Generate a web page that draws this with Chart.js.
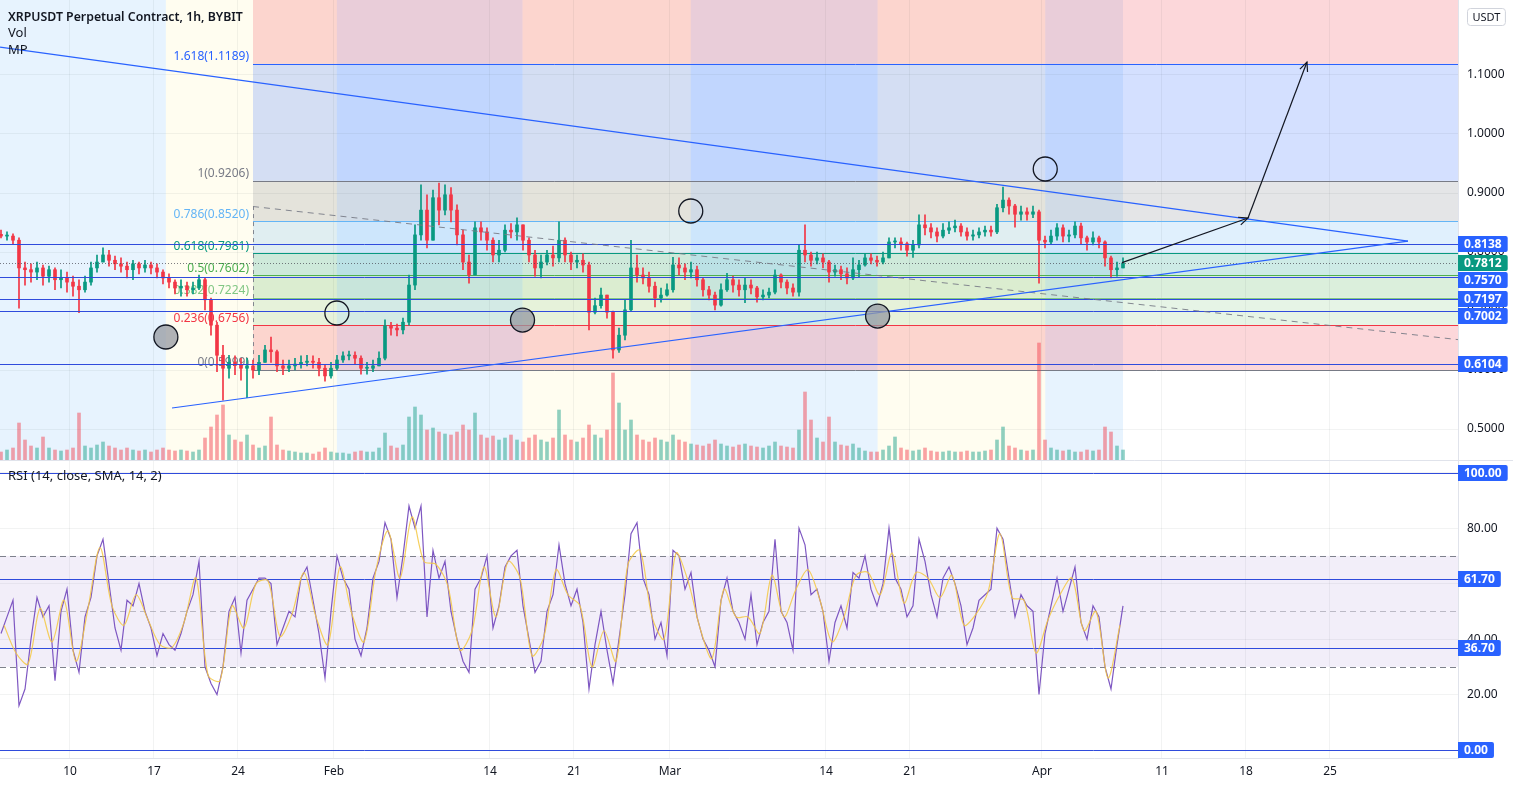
<!DOCTYPE html>
<html><head><meta charset="utf-8">
<script src="https://cdn.jsdelivr.net/npm/chart.js@4.4.1/dist/chart.umd.min.js"></script>
<style>
html,body{margin:0;padding:0;background:#fff;overflow:hidden}
#wrap{position:relative;width:1513px;height:786px;background:#fff}
canvas{position:absolute;left:0}
#c1{top:0}
#c2{top:460px}
</style></head><body>
<div id="wrap"><canvas id="c1" width="1513" height="460"></canvas><canvas id="c2" width="1513" height="326"></canvas></div>
<script>
// ---------------- DATA ----------------
// time axis: days since 2022-01-01 00:00; 12h candles
const firstCandleDay = 3;      // Jan 4 00:00
const candleStepDays = 0.5;
const firstOpen = 0.830;
const closes = [
0.827,0.827,0.820,0.773,0.770,0.766,0.773,0.759,0.770,0.753,
0.756,0.749,0.742,0.736,0.749,0.773,0.783,0.795,0.786,0.780,
0.776,0.770,0.780,0.773,0.778,0.773,0.766,0.756,0.749,0.739,
0.742,0.736,0.739,0.753,0.719,0.676,0.625,0.603,0.613,0.608,
0.603,0.607,0.600,0.613,0.634,0.631,0.607,0.603,0.607,0.610,
0.613,0.615,0.613,0.603,0.590,0.603,0.617,0.624,0.625,0.620,
0.603,0.603,0.607,0.620,0.675,0.671,0.668,0.681,0.744,0.829,
0.871,0.820,0.892,0.871,0.897,0.871,0.829,0.783,0.761,0.841,
0.834,0.820,0.795,0.803,0.837,0.834,0.846,0.820,0.795,0.773,
0.783,0.795,0.790,0.820,0.795,0.783,0.786,0.778,0.698,0.709,
0.727,0.698,0.634,0.659,0.702,0.773,0.761,0.756,0.742,0.722,
0.727,0.736,0.778,0.773,0.766,0.770,0.753,0.736,0.727,0.710,
0.736,0.753,0.744,0.736,0.744,0.739,0.724,0.727,0.732,0.761,
0.749,0.739,0.732,0.803,0.795,0.786,0.790,0.783,0.766,0.770,
0.763,0.756,0.770,0.778,0.790,0.786,0.783,0.790,0.817,0.817,
0.814,0.803,0.812,0.846,0.841,0.834,0.827,0.837,0.841,0.844,
0.834,0.827,0.829,0.834,0.837,0.834,0.875,0.888,0.878,0.864,
0.868,0.864,0.868,0.820,0.817,0.827,0.841,0.827,0.829,0.844,
0.824,0.817,0.824,0.817,0.790,0.770,0.773,0.7812];
const highs = [
0.837,0.834,0.831,0.824,0.783,0.780,0.783,0.778,0.776,0.773,
0.770,0.766,0.759,0.753,0.759,0.783,0.795,0.807,0.803,0.793,
0.790,0.783,0.786,0.783,0.786,0.783,0.780,0.770,0.763,0.753,
0.753,0.749,0.749,0.761,0.756,0.722,0.681,0.642,0.625,0.624,
0.620,0.620,0.617,0.625,0.642,0.656,0.634,0.617,0.617,0.620,
0.624,0.625,0.624,0.620,0.608,0.613,0.625,0.631,0.632,0.631,
0.624,0.613,0.617,0.631,0.685,0.681,0.678,0.688,0.761,0.846,
0.914,0.897,0.905,0.917,0.914,0.909,0.880,0.837,0.795,0.851,
0.851,0.841,0.824,0.820,0.846,0.848,0.858,0.846,0.824,0.803,
0.795,0.803,0.810,0.851,0.824,0.800,0.795,0.797,0.783,0.722,
0.739,0.727,0.700,0.671,0.719,0.820,0.795,0.773,0.766,0.749,
0.739,0.746,0.791,0.790,0.780,0.783,0.776,0.756,0.742,0.732,
0.746,0.764,0.759,0.753,0.756,0.753,0.742,0.736,0.739,0.770,
0.763,0.753,0.746,0.812,0.846,0.800,0.800,0.797,0.786,0.778,
0.776,0.773,0.790,0.786,0.797,0.797,0.793,0.800,0.824,0.824,
0.824,0.817,0.820,0.863,0.863,0.848,0.841,0.848,0.851,0.854,
0.848,0.841,0.837,0.841,0.844,0.844,0.881,0.910,0.892,0.881,
0.878,0.875,0.878,0.871,0.827,0.837,0.848,0.846,0.837,0.851,
0.849,0.827,0.834,0.827,0.819,0.793,0.783,0.790];
const lows = [
0.824,0.820,0.814,0.705,0.744,0.749,0.753,0.744,0.749,0.736,
0.739,0.732,0.725,0.697,0.732,0.744,0.766,0.783,0.776,0.770,
0.766,0.756,0.753,0.763,0.766,0.763,0.756,0.746,0.739,0.729,
0.725,0.725,0.729,0.736,0.702,0.659,0.597,0.549,0.586,0.592,
0.583,0.553,0.586,0.592,0.613,0.613,0.597,0.592,0.597,0.600,
0.603,0.607,0.603,0.590,0.581,0.586,0.600,0.613,0.617,0.610,
0.593,0.593,0.597,0.607,0.617,0.659,0.658,0.661,0.676,0.736,
0.820,0.807,0.820,0.846,0.863,0.851,0.812,0.770,0.747,0.761,
0.820,0.803,0.783,0.783,0.800,0.824,0.820,0.803,0.783,0.759,
0.756,0.778,0.776,0.783,0.783,0.770,0.773,0.766,0.668,0.695,
0.705,0.688,0.620,0.630,0.651,0.700,0.749,0.746,0.732,0.707,
0.715,0.725,0.732,0.761,0.753,0.756,0.742,0.725,0.719,0.702,
0.708,0.733,0.732,0.725,0.714,0.729,0.715,0.719,0.722,0.729,
0.739,0.729,0.725,0.725,0.783,0.776,0.780,0.773,0.749,0.759,
0.753,0.746,0.753,0.758,0.776,0.780,0.776,0.780,0.790,0.807,
0.803,0.793,0.791,0.807,0.829,0.824,0.817,0.824,0.831,0.834,
0.827,0.820,0.820,0.824,0.827,0.827,0.831,0.868,0.864,0.842,
0.854,0.854,0.858,0.747,0.807,0.814,0.820,0.817,0.817,0.824,
0.814,0.803,0.812,0.807,0.776,0.756,0.759,0.773];
const volume = [
0.8,1.0,1.2,3.7,2.0,1.4,1.2,2.3,1.2,1.0,
0.9,1.0,1.2,4.7,1.4,1.2,1.5,1.8,1.4,1.2,
1.0,1.2,1.0,0.9,1.0,0.8,1.0,1.2,1.0,0.9,
1.0,0.9,0.8,1.0,2.2,3.3,4.5,5.5,2.5,2.0,
1.8,2.5,1.5,1.2,1.4,4.3,1.5,1.0,0.9,0.8,
0.7,0.7,0.6,0.8,1.2,0.8,0.7,0.7,0.6,0.8,
0.9,0.8,0.8,1.2,2.7,1.4,1.2,1.5,4.3,5.3,
4.5,3.0,3.2,2.8,2.6,2.5,2.8,3.5,3.0,4.7,
2.5,2.2,2.4,2.0,2.2,2.5,2.0,1.8,2.2,2.5,
2.0,1.8,2.2,5.0,2.5,2.0,1.8,2.2,3.5,2.5,
2.2,3.0,8.7,5.7,3.0,4.0,2.5,2.0,1.8,2.2,
2.0,1.8,2.5,2.0,1.8,1.6,1.5,1.4,1.6,2.0,
1.6,1.4,1.3,1.5,1.6,1.4,1.3,1.2,1.4,1.8,
1.4,1.3,1.2,3.0,6.8,4.0,2.2,1.8,4.3,1.8,
1.5,1.4,1.6,1.2,0.9,0.8,0.8,1.0,1.4,2.3,
1.2,1.0,0.9,1.0,1.2,0.9,0.8,0.8,0.9,0.8,
0.8,0.9,0.8,0.8,0.9,1.0,2.0,3.3,1.4,1.2,
1.0,0.9,1.0,11.7,2.0,1.2,1.0,0.9,1.0,0.8,
0.8,1.0,0.9,1.0,3.3,2.8,1.4,1.0];
const rsi = [
42,48,54,16,22,40,55,48,52,25,
50,58,36,28,48,55,70,76,60,44,
36,54,52,60,50,44,34,42,38,36,
42,50,56,68,30,24,20,30,50,55,
35,54,58,62,62,60,38,44,50,48,
62,66,54,42,26,50,70,62,58,40,
34,44,62,68,82,76,55,70,88,80,
88,48,72,62,68,50,40,32,28,58,
62,70,44,52,66,70,72,52,40,28,
32,50,56,74,60,52,58,46,22,38,
50,36,24,40,56,78,82,62,56,40,
46,34,72,70,58,64,48,40,36,30,
54,62,50,46,40,56,38,46,50,76,
50,46,36,80,74,56,58,50,32,46,
52,44,64,62,70,58,52,60,80,62,
58,48,52,76,68,56,48,62,66,60,
52,38,44,54,56,58,80,76,62,48,
56,52,50,20,42,52,62,50,58,66,
46,40,52,48,30,22,38,52];
const rsiMaFirstDay = 3.5, rsiMaStepDays = 1;
const rsiMa = [45,35,31,51,39,54,32,51,73,52,45,56,47,38,37,46,62,27,25,52,
44,60,61,41,49,64,48,38,66,49,39,65,79,62,84,68,67,59,36,43,
66,48,68,62,34,41,65,56,52,30,43,32,67,72,48,40,71,61,44,33,
58,48,48,42,63,48,58,65,54,39,48,63,64,56,71,53,64,62,55,63,
45,49,57,78,55,54,35,47,56,62,43,50,26,45];

// x tick labels
const xTickDays   = [9, 16, 23, 31, 44, 51, 59, 72, 79, 90, 100, 107, 114];
const xTickLabels = ['10','17','24','Feb','14','21','Mar','14','21','Apr','11','18','25'];
const priceTicks = [0.5, 0.6, 0.7, 0.8, 0.9, 1.0, 1.1];
const rsiTicks = [0, 20, 40, 60, 80, 100];

// moon phases (MP)
const moonPhaseDays  = [16.99, 31.24, 46.71, 60.73, 76.30, 90.27];
const moonPhaseKinds = ['full','new','full','new','full','new'];
const moonMarkerPrices = [0.656, 0.6966, 0.6847, 0.8695, 0.6915, 0.9407];

// fib retracement
const fibStartDay = 24.25;
const fibLevels = [0, 0.236, 0.382, 0.5, 0.618, 0.786, 1, 1.618, 2.618];
const fibPrices = [0.5999, 0.6756, 0.7224, 0.7602, 0.7981, 0.8520, 0.9206, 1.1189, 1.4395];

// drawings (data units: [day, price])
const hLinePrices = [0.8138, 0.7570, 0.7197, 0.7002, 0.6104];
const lastPrice = 0.7812;
const descendingLine = [[3.17, 1.1474], [120.5, 0.8186]];
const ascendingLine  = [[17.5, 0.5356], [120.5, 0.8186]];
const dashedLine     = [[24.25, 0.8771], [124.67, 0.6515]];
const arrowPath      = [[96.67, 0.782], [107.17, 0.8576], [112.08, 1.122]];

// RSI levels
const rsiHLines = [100, 61.70, 36.70, 0];
const rsiBandLevels = [70, 50, 30];

// ---------------- STYLE ----------------
const FONT = '"Noto Sans", "Open Sans", Arial, sans-serif';
const TEXT = '#131722';
const GRID = 'rgba(42,46,57,0.06)';
const BORDER = '#e0e3eb';
const UP = '#089981', DOWN = '#f23645';
const HBLUE = '#2962ff';
const HLINE = '#2f4bdc';
const fibColors = ['#787b86','#f23645','#81c784','#4caf50','#089981','#64b5f6','#787b86','#2962ff','#f23645'];
const BAND_WAX = 'rgba(33,150,243,0.11)';
const BAND_WANE = 'rgba(255,235,59,0.08)';
const viewStartDay = 3.1667, viewEndDay = 124.6667;
const priceMin = 0.4475, priceMax = 1.2271;
const rsiMin = -2.88, rsiMax = 104.58;

// ---------------- DERIVED ----------------
const candleX = closes.map((_, i) => firstCandleDay + (i + 0.5) * candleStepDays);
const opens = closes.map((c, i) => i === 0 ? firstOpen : closes[i - 1]);
const isUp = closes.map((c, i) => c >= opens[i]);

function hexA(hex, a){ const n = parseInt(hex.slice(1), 16); return `rgba(${(n>>16)&255},${(n>>8)&255},${n&255},${a})`; }
function crisp(v){ return Math.round(v) + 0.5; }
function clipArea(ctx, a){ ctx.beginPath(); ctx.rect(a.left, a.top, a.right - a.left, a.bottom - a.top); ctx.clip(); }
function hline(ctx, x0, x1, y){ ctx.beginPath(); ctx.moveTo(x0, crisp(y)); ctx.lineTo(x1, crisp(y)); ctx.stroke(); }
function seg(ctx, x0, y0, x1, y1){ ctx.beginPath(); ctx.moveTo(x0, y0); ctx.lineTo(x1, y1); ctx.stroke(); }
function arrow(ctx, x0, y0, x1, y1){
  seg(ctx, x0, y0, x1, y1);
  const ang = Math.atan2(y1 - y0, x1 - x0), L = 10, s = 0.42;
  ctx.beginPath();
  ctx.moveTo(x1 - L*Math.cos(ang - s), y1 - L*Math.sin(ang - s));
  ctx.lineTo(x1, y1);
  ctx.lineTo(x1 - L*Math.cos(ang + s), y1 - L*Math.sin(ang + s));
  ctx.stroke();
}
function axisBoxes(ctx, left, items){
  const h = 16;
  items.sort((a, b) => a.y - b.y);
  let prevBottom = -1e9;
  ctx.font = 'bold 12px ' + FONT;
  for (const it of items){
    let top = it.y - h/2;
    if (top < prevBottom + 1) top = prevBottom + 1;
    const w = ctx.measureText(it.text).width + 12;
    ctx.fillStyle = it.bg;
    ctx.beginPath();
    ctx.roundRect(left, Math.round(top), w, h, [0, 2, 2, 0]);
    ctx.fill();
    ctx.fillStyle = '#ffffff';
    ctx.textAlign = 'left'; ctx.textBaseline = 'middle';
    ctx.fillText(it.text, left + 6, Math.round(top) + h/2 + 0.5);
    prevBottom = Math.round(top) + h;
  }
}
function xTicksBuilder(s){ s.ticks = xTickDays.map(v => ({value: v})); }
function noVPad(s){ s.paddingTop = 0; s.paddingBottom = 0; }

// ---------------- PRICE PANE ----------------
const pricePane = {
  id: 'pricePane',
  beforeDraw(chart){
    const {ctx, chartArea: a, scales: {x, y}} = chart;
    ctx.save(); clipArea(ctx, a);
    const edges = [viewStartDay, ...moonPhaseDays, candleX[candleX.length - 1]];
    for (let i = 0; i < edges.length - 1; i++){
      const waxing = i === 0 ? moonPhaseKinds[0] === 'full' : moonPhaseKinds[i - 1] === 'new';
      ctx.fillStyle = waxing ? BAND_WAX : BAND_WANE;
      const x0 = x.getPixelForValue(edges[i]), x1 = x.getPixelForValue(edges[i + 1]);
      ctx.fillRect(x0, a.top, x1 - x0, a.bottom - a.top);
    }
    const fx = Math.round(x.getPixelForValue(fibStartDay));
    for (let i = 1; i < fibLevels.length; i++){
      const yt = y.getPixelForValue(fibPrices[i]), yb = y.getPixelForValue(fibPrices[i - 1]);
      ctx.fillStyle = hexA(fibColors[i], 0.2);
      ctx.fillRect(fx, yt, a.right - fx, yb - yt);
    }
    ctx.restore();
  },
  beforeDatasetsDraw(chart){
    const {ctx, chartArea: a, scales: {x, y}} = chart;
    ctx.save(); clipArea(ctx, a);
    const fx = Math.round(x.getPixelForValue(fibStartDay));
    ctx.lineWidth = 1;
    for (let i = 0; i < fibLevels.length; i++){
      ctx.strokeStyle = fibColors[i];
      hline(ctx, fx, a.right, y.getPixelForValue(fibPrices[i]));
    }
    ctx.strokeStyle = 'rgba(120,123,134,0.9)'; ctx.setLineDash([4, 4]);
    seg(ctx, fx + 0.5, y.getPixelForValue(fibPrices[0]), fx + 0.5, y.getPixelForValue(dashedLine[0][1]));
    ctx.setLineDash([]);
    ctx.font = '12px ' + FONT; ctx.textAlign = 'right'; ctx.textBaseline = 'middle';
    for (let i = 0; i < fibLevels.length; i++){
      const yy = y.getPixelForValue(fibPrices[i]);
      if (yy < a.top) continue;
      ctx.fillStyle = fibColors[i];
      ctx.fillText(`${fibLevels[i]}(${fibPrices[i].toFixed(4)})`, fx - 4, yy - 7);
    }
    ctx.restore();
  },
  afterDatasetsDraw(chart){
    const {ctx, chartArea: a, scales: {x, y}} = chart;
    const P = p => [x.getPixelForValue(p[0]), y.getPixelForValue(p[1])];
    ctx.save(); clipArea(ctx, a);
    ctx.lineWidth = 1;
    ctx.strokeStyle = HLINE;
    for (const p of hLinePrices) hline(ctx, a.left, a.right, y.getPixelForValue(p));
    ctx.strokeStyle = 'rgba(70,70,80,0.7)'; ctx.setLineDash([1, 2]);
    hline(ctx, a.left, a.right, y.getPixelForValue(lastPrice));
    ctx.setLineDash([]);
    ctx.strokeStyle = 'rgba(120,123,134,0.9)'; ctx.setLineDash([6, 5]);
    seg(ctx, ...P(dashedLine[0]), ...P(dashedLine[1]));
    ctx.setLineDash([]);
    ctx.strokeStyle = HBLUE; ctx.lineWidth = 1.2;
    seg(ctx, ...P(descendingLine[0]), ...P(descendingLine[1]));
    seg(ctx, ...P(ascendingLine[0]), ...P(ascendingLine[1]));
    ctx.strokeStyle = TEXT; ctx.lineWidth = 1.2;
    for (let i = 0; i < arrowPath.length - 1; i++) arrow(ctx, ...P(arrowPath[i]), ...P(arrowPath[i + 1]));
    for (let i = 0; i < moonPhaseDays.length; i++){
      const [cx, cy] = P([moonPhaseDays[i], moonMarkerPrices[i]]);
      ctx.beginPath(); ctx.arc(cx, cy, 12, 0, Math.PI * 2);
      if (moonPhaseKinds[i] === 'full'){ ctx.fillStyle = 'rgba(150,153,162,0.75)'; ctx.fill(); }
      ctx.strokeStyle = TEXT; ctx.lineWidth = 1.3; ctx.stroke();
    }
    ctx.restore();
  },
  afterDraw(chart){
    const {ctx, chartArea: a, scales: {y}} = chart;
    ctx.save();
    ctx.textAlign = 'left'; ctx.textBaseline = 'middle'; ctx.fillStyle = TEXT;
    ctx.font = '600 12.3px ' + FONT; ctx.fillText('XRPUSDT Perpetual Contract, 1h, BYBIT', 8, 17);
    ctx.font = '13px ' + FONT; ctx.fillText('Vol', 8, 33); ctx.fillText('MP', 8, 50);
    ctx.font = '11px ' + FONT;
    const tw = ctx.measureText('USDT').width;
    ctx.fillStyle = '#fff'; ctx.strokeStyle = '#d1d4dc'; ctx.lineWidth = 1;
    ctx.beginPath(); ctx.roundRect(a.right + 9.5, 8.5, tw + 10, 17, 3); ctx.fill(); ctx.stroke();
    ctx.fillStyle = TEXT; ctx.textAlign = 'center';
    ctx.fillText('USDT', a.right + 9.5 + (tw + 10)/2, 17.5);
    const items = hLinePrices.map(p => ({y: y.getPixelForValue(p), text: p.toFixed(4), bg: HBLUE}));
    items.push({y: y.getPixelForValue(lastPrice), text: lastPrice.toFixed(4), bg: UP});
    axisBoxes(ctx, a.right, items);
    ctx.restore();
  }
};

new Chart(document.getElementById('c1'), {
  type: 'bar',
  data: { datasets: [
    { label: 'Vol', yAxisID: 'yVol', order: 3, grouped: false, barThickness: 3,
      data: volume.map((v, i) => ({x: candleX[i], y: v})),
      backgroundColor: isUp.map(u => u ? 'rgba(8,153,129,0.45)' : 'rgba(242,54,69,0.45)') },
    { label: 'wick', yAxisID: 'y', order: 2, grouped: false, barThickness: 1,
      data: closes.map((c, i) => ({x: candleX[i], y: [lows[i], highs[i]]})),
      backgroundColor: isUp.map(u => u ? UP : DOWN) },
    { label: 'body', yAxisID: 'y', order: 1, grouped: false, barThickness: 3, minBarLength: 1,
      data: closes.map((c, i) => ({x: candleX[i], y: [Math.min(opens[i], c), Math.max(opens[i], c)]})),
      backgroundColor: isUp.map(u => u ? UP : DOWN) }
  ]},
  options: {
    responsive: false, animation: false, events: [],
    layout: { padding: 0, autoPadding: false },
    plugins: { legend: {display: false}, tooltip: {enabled: false} },
    scales: {
      x: { type: 'linear', min: viewStartDay, max: viewEndDay, offset: false,
           afterBuildTicks: xTicksBuilder,
           ticks: { display: false },
           grid: { color: GRID, drawTicks: false, offset: false },
           border: { display: false },
           afterFit: s => { s.height = 0; s.paddingLeft = 0; s.paddingRight = 0; } },
      y: { type: 'linear', position: 'right', min: priceMin, max: priceMax,
           afterBuildTicks: s => { s.ticks = priceTicks.map(v => ({value: v})); },
           ticks: { autoSkip: false, callback: v => Number(v).toFixed(4), color: TEXT, padding: 9, font: { size: 12, family: FONT } },
           grid: { color: GRID, drawTicks: false },
           border: { display: true, color: BORDER },
           afterFit: s => { s.width = 55; noVPad(s); } },
      yVol: { type: 'linear', display: false, min: 0, max: 46 }
    }
  },
  plugins: [pricePane]
});

// ---------------- RSI PANE ----------------
const rsiPane = {
  id: 'rsiPane',
  beforeDatasetsDraw(chart){
    const {ctx, chartArea: a, scales: {y}} = chart;
    ctx.save(); clipArea(ctx, a);
    const yt = y.getPixelForValue(rsiBandLevels[0]), yb = y.getPixelForValue(rsiBandLevels[2]);
    ctx.fillStyle = 'rgba(126,87,194,0.1)';
    ctx.fillRect(a.left, yt, a.right - a.left, yb - yt);
    ctx.lineWidth = 1; ctx.setLineDash([6, 4]);
    rsiBandLevels.forEach((lv, i) => {
      ctx.strokeStyle = i === 1 ? 'rgba(120,123,134,0.45)' : 'rgba(120,123,134,0.95)';
      hline(ctx, a.left, a.right, y.getPixelForValue(lv));
    });
    ctx.setLineDash([]);
    ctx.strokeStyle = HLINE;
    for (const lv of rsiHLines) hline(ctx, a.left, a.right, y.getPixelForValue(lv));
    ctx.restore();
  },
  afterDraw(chart){
    const {ctx, chartArea: a, scales: {y}} = chart;
    ctx.save();
    ctx.strokeStyle = BORDER; ctx.lineWidth = 1;
    ctx.beginPath(); ctx.moveTo(0, 0.5); ctx.lineTo(chart.width, 0.5); ctx.stroke();
    ctx.fillStyle = TEXT; ctx.font = '13px ' + FONT; ctx.textAlign = 'left'; ctx.textBaseline = 'middle';
    ctx.fillText('RSI (14, close, SMA, 14, 2)', 8, 16);
    axisBoxes(ctx, a.right, rsiHLines.map(v => ({y: y.getPixelForValue(v), text: v.toFixed(2), bg: HBLUE})));
    ctx.restore();
  }
};

new Chart(document.getElementById('c2'), {
  type: 'line',
  data: { datasets: [
    { label: 'RSI', order: 2, data: rsi.map((v, i) => ({x: candleX[i], y: v})),
      borderColor: '#7e57c2', borderWidth: 1.2, pointRadius: 0, tension: 0 },
    { label: 'RSI MA', order: 1, data: rsiMa.map((v, j) => ({x: rsiMaFirstDay + j * rsiMaStepDays, y: v})),
      borderColor: 'rgba(245,200,66,0.85)', borderWidth: 1.2, pointRadius: 0, tension: 0.3 }
  ]},
  options: {
    responsive: false, animation: false, events: [],
    layout: { padding: 0, autoPadding: false },
    plugins: { legend: {display: false}, tooltip: {enabled: false} },
    scales: {
      x: { type: 'linear', min: viewStartDay, max: viewEndDay, offset: false,
           afterBuildTicks: xTicksBuilder,
           ticks: { autoSkip: false, maxRotation: 0, color: TEXT, padding: 6, font: { size: 12, family: FONT },
                    callback: v => { const i = xTickDays.indexOf(v); return i >= 0 ? xTickLabels[i] : ''; } },
           grid: { color: GRID, drawTicks: false },
           border: { display: true, color: BORDER },
           afterFit: s => { s.height = 28; s.paddingLeft = 0; s.paddingRight = 0; } },
      y: { type: 'linear', position: 'right', min: rsiMin, max: rsiMax,
           afterBuildTicks: s => { s.ticks = rsiTicks.map(v => ({value: v})); },
           ticks: { autoSkip: false, callback: v => Number(v).toFixed(2), color: TEXT, padding: 9, font: { size: 12, family: FONT } },
           grid: { color: GRID, drawTicks: false },
           border: { display: true, color: BORDER },
           afterFit: s => { s.width = 55; noVPad(s); } }
    }
  },
  plugins: [rsiPane]
});
</script>
</body></html>
